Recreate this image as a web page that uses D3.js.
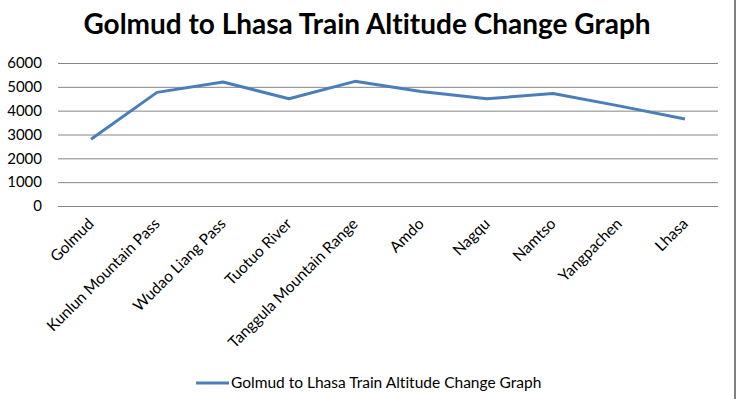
<!DOCTYPE html>
<html lang="en">
<head>
    <meta charset="UTF-8">
    <title>Golmud to Lhasa Train Altitude Change Graph</title>
    <script src="https://d3js.org/d3.v7.min.js"></script>
    <style>
        body { margin: 0; background: #fff; }
        text { font-family: Lato, "Open Sans", sans-serif; fill: #000; font-variant-ligatures: none; }
    </style>
</head>
<body>
    <div id="chart"></div>
    <script>
        var stations = ["Golmud", "Kunlun Mountain Pass", "Wudao Liang Pass", "Tuotuo River",
            "Tanggula Mountain Range", "Amdo", "Nagqu", "Namtso", "Yangpachen", "Lhasa"];
        var altitudes = [2800, 4767, 5200, 4500, 5231, 4800, 4500, 4718, 4200, 3650];
        var yTicks = [0, 1000, 2000, 3000, 4000, 5000, 6000];
        var seriesName = "Golmud to Lhasa Train Altitude Change Graph";

        var width = 737;
        var height = 399;
        var plotLeft = 58, plotRight = 718, plotTop = 63, plotBottom = 206;

        var svg = d3.select('#chart').append('svg')
            .attr('width', width)
            .attr('height', height);

        var xScale = d3.scaleBand()
            .domain(stations)
            .range([plotLeft, plotRight]);

        var yScale = d3.scaleLinear()
            .domain([0, 6000])
            .range([plotBottom, plotTop]);

        // title
        svg.append('text')
            .attr('x', 367)
            .attr('y', 34)
            .attr('text-anchor', 'middle')
            .style('font-weight', 'bold')
            .style('font-size', '28px')
            .text(seriesName);

        // gridlines + y labels
        var yAxis = svg.append('g')
            .attr('transform', 'translate(' + plotLeft + ',0)')
            .call(d3.axisLeft(yScale).tickValues(yTicks).tickFormat(d3.format('d'))
                .tickSize(-(plotRight - plotLeft)).tickPadding(16));
        yAxis.select('.domain').remove();
        yAxis.selectAll('line').attr('stroke', '#868686');
        yAxis.selectAll('text').style('font-size', '15px').style('font-family', 'Lato, sans-serif');

        // x labels
        svg.append('g').selectAll('text')
            .data(stations)
            .enter().append('text')
                .attr('transform', d => 'translate(' + (xScale(d) + xScale.bandwidth() / 2) + ',221) rotate(-45)')
                .attr('text-anchor', 'end')
                .attr('dy', '0.35em')
                .style('font-size', '15.5px')
                .text(d => d);

        // line
        var line = d3.line()
            .x((d, i) => xScale(stations[i]) + xScale.bandwidth() / 2)
            .y(d => yScale(d));

        svg.append('path')
            .datum(altitudes)
            .attr('d', line)
            .attr('fill', 'none')
            .attr('stroke', '#4a7ebb')
            .attr('stroke-width', 3)
            .attr('stroke-linejoin', 'round');

        // legend
        svg.append('line')
            .attr('x1', 196).attr('x2', 229)
            .attr('y1', 383).attr('y2', 383)
            .attr('stroke', '#4a7ebb')
            .attr('stroke-width', 3);
        svg.append('text')
            .attr('x', 231)
            .attr('y', 388)
            .style('font-size', '15.5px')
            .text(seriesName);

        // right frame edge
        svg.append('rect')
            .attr('x', 734).attr('y', 0)
            .attr('width', 2).attr('height', height)
            .attr('fill', '#808080');
    </script>
</body>
</html>
